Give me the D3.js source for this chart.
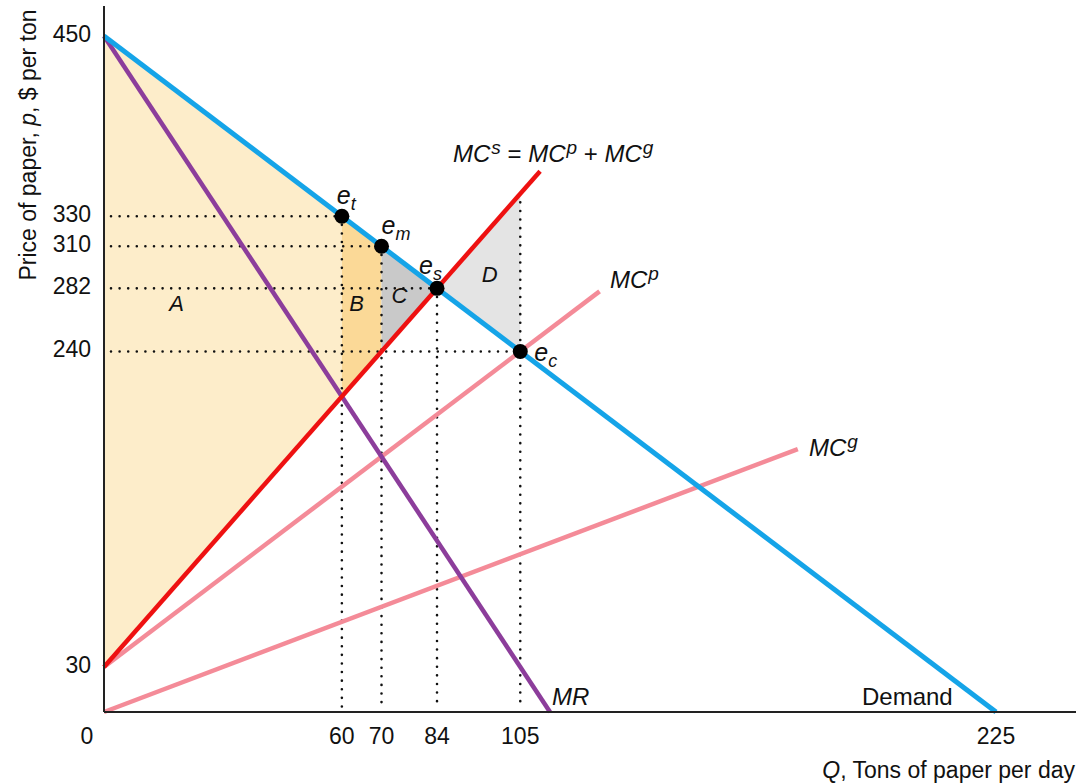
<!DOCTYPE html>
<html>
<head>
<meta charset="utf-8">
<script src="https://cdn.jsdelivr.net/npm/d3@7"></script>
<style>
	body { margin: 0; background: #fff; }
	svg text { font-family: 'Liberation Sans', Arial, sans-serif; fill: #111; }
</style>
</head>
<body>
<script>
// Curves: quantity (Q) and price (p) end points
const demandQ = [0, 225];
const demandP = [450, 0];
const mrQ = [0, 112.5];
const mrP = [450, 0];
const mcsQ = [0, 110];
const mcsP = [30, 360];
const mcpQ = [0, 125];
const mcpP = [30, 280];
const mcgQ = [0, 175];
const mcgP = [0, 175];

// Equilibrium points
const eqNames = ['t', 'm', 's', 'c'];
const eqQ = [60, 70, 84, 105];
const eqP = [330, 310, 282, 240];
// top of the vertical dotted line for each point
const dropTopP = [330, 310, 282, 345];

// Shaded areas
const areaNames = ['A', 'B', 'C', 'D'];
const areaPoints = [
	[[0, 450], [60, 330], [60, 210], [0, 30]],
	[[60, 330], [70, 310], [70, 240], [60, 210]],
	[[70, 310], [84, 282], [70, 240]],
	[[84, 282], [105, 345], [105, 240]]
];
const areaLabelQ = [18.3, 63.7, 74.5, 97.3];
const areaLabelP = [267, 267, 272, 286];

// Tick labels
const yTicks = [450, 330, 310, 282, 240, 30];
const xTicks = [60, 70, 84, 105, 225];

const width = 1088, height = 783;
const x = d3.scaleLinear().domain([0, 225]).range([104, 996]);
const y = d3.scaleLinear().domain([0, 450]).range([712, 36]);

const svg = d3.select('body').append('svg')
	.attr('width', width)
	.attr('height', height);

// Areas
const areaColors = ['#fdedca', '#fbd997', '#c9c9c9', '#e4e4e4'];
svg.selectAll('path.area')
	.data(areaPoints)
.join('path')
	.attr('class', 'area')
	.attr('fill', (d, i) => areaColors[i])
	.attr('d', d => d3.line().x(p => x(p[0])).y(p => y(p[1]))(d) + 'Z');

svg.selectAll('text.areaLabel')
	.data(areaNames)
.join('text')
	.attr('class', 'areaLabel')
	.attr('x', (d, i) => x(areaLabelQ[i]))
	.attr('y', (d, i) => y(areaLabelP[i]))
	.attr('text-anchor', 'middle')
	.attr('font-size', 22)
	.attr('font-style', 'italic')
	.text(d => d);

// Dotted guides
const dotted = g => g.attr('stroke', '#111')
	.attr('stroke-width', 2.6)
	.attr('stroke-linecap', 'round')
	.attr('stroke-dasharray', '0 8.6');

svg.selectAll('line.hguide')
	.data(eqQ)
.join('line')
	.attr('class', 'hguide')
	.attr('x1', x(0) + 7)
	.attr('x2', d => x(d))
	.attr('y1', (d, i) => y(eqP[i]))
	.attr('y2', (d, i) => y(eqP[i]))
	.call(dotted);

svg.selectAll('line.vguide')
	.data(eqQ)
.join('line')
	.attr('class', 'vguide')
	.attr('x1', d => x(d))
	.attr('x2', d => x(d))
	.attr('y1', (d, i) => y(dropTopP[i]))
	.attr('y2', y(0) - 4)
	.call(dotted);

// Curves
const curves = [
	{ 'q': mcgQ, 'p': mcgP, 'color': '#f48b98', 'w': 4.5 },
	{ 'q': mcpQ, 'p': mcpP, 'color': '#f48b98', 'w': 4.5 },
	{ 'q': mrQ, 'p': mrP, 'color': '#8c3d9b', 'w': 4.5 },
	{ 'q': mcsQ, 'p': mcsP, 'color': '#ee1111', 'w': 4.5 },
	{ 'q': demandQ, 'p': demandP, 'color': '#15a4e8', 'w': 5 }
];
svg.selectAll('line.curve')
	.data(curves)
.join('line')
	.attr('class', 'curve')
	.attr('x1', d => x(d.q[0]))
	.attr('y1', d => y(d.p[0]))
	.attr('x2', d => x(d.q[1]))
	.attr('y2', d => y(d.p[1]))
	.attr('stroke', d => d.color)
	.attr('stroke-width', d => d.w);

// Axes
svg.append('line')
	.attr('x1', x(0)).attr('x2', x(0))
	.attr('y1', 6).attr('y2', y(0))
	.attr('stroke', '#222').attr('stroke-width', 2);
svg.append('line')
	.attr('x1', x(0)).attr('x2', 1076)
	.attr('y1', y(0)).attr('y2', y(0))
	.attr('stroke', '#222').attr('stroke-width', 2);

svg.selectAll('text.ytick')
	.data(yTicks)
.join('text')
	.attr('class', 'ytick')
	.attr('x', x(0) - 13)
	.attr('y', d => y(d) + 6)
	.attr('text-anchor', 'end')
	.attr('font-size', 23)
	.text(d => d);

svg.selectAll('text.xtick')
	.data(xTicks)
.join('text')
	.attr('class', 'xtick')
	.attr('x', d => x(d))
	.attr('y', 744)
	.attr('text-anchor', 'middle')
	.attr('font-size', 23)
	.text(d => d);

svg.append('text')
	.attr('x', x(0) - 17)
	.attr('y', 744)
	.attr('text-anchor', 'middle')
	.attr('font-size', 23)
	.text('0');

// Axis titles
const yTitle = svg.append('text')
	.attr('transform', 'translate(36,145) rotate(-90)')
	.attr('text-anchor', 'middle')
	.attr('font-size', 23);
yTitle.append('tspan').text('Price of paper, ');
yTitle.append('tspan').attr('font-style', 'italic').text('p');
yTitle.append('tspan').text(', $ per ton');

const xTitle = svg.append('text')
	.attr('x', 1075)
	.attr('y', 778)
	.attr('text-anchor', 'end')
	.attr('font-size', 23);
xTitle.append('tspan').attr('font-style', 'italic').text('Q');
xTitle.append('tspan').text(', Tons of paper per day');

// Equilibrium dots and labels
svg.selectAll('circle.eq')
	.data(eqQ)
.join('circle')
	.attr('class', 'eq')
	.attr('cx', d => x(d))
	.attr('cy', (d, i) => y(eqP[i]))
	.attr('r', 7.5)
	.attr('fill', '#000');

const eqLabelDx = [-5, 0, -18, 14];
const eqLabelDy = [-12, -12, -14, 10];
const eqLabels = svg.selectAll('text.eqLabel')
	.data(eqNames)
.join('text')
	.attr('class', 'eqLabel')
	.attr('x', (d, i) => x(eqQ[i]) + eqLabelDx[i])
	.attr('y', (d, i) => y(eqP[i]) + eqLabelDy[i])
	.attr('font-size', 25)
	.attr('font-style', 'italic');
eqLabels.append('tspan').text('e');
eqLabels.append('tspan')
	.attr('dy', 6)
	.attr('font-size', 18)
	.text(d => d);

// Curve labels
const supLabel = function(xPos, yPos, parts) {
	const t = svg.append('text')
		.attr('x', xPos)
		.attr('y', yPos)
		.attr('font-size', 24);
	for (const part of parts) {
		const s = t.append('tspan').text(part.text);
		if (part.italic) s.attr('font-style', 'italic');
		if (part.sup) s.attr('dx', 1).attr('dy', -8).attr('font-size', 19);
		if (part.down) s.attr('dy', 8);
	}
	return t;
};

supLabel(453, 162, [
	{ 'text': 'MC', 'italic': true },
	{ 'text': 's', 'italic': true, 'sup': true },
	{ 'text': ' = ', 'down': true },
	{ 'text': 'MC', 'italic': true },
	{ 'text': 'p', 'italic': true, 'sup': true },
	{ 'text': ' + ', 'down': true },
	{ 'text': 'MC', 'italic': true },
	{ 'text': 'g', 'italic': true, 'sup': true }
]);
supLabel(610, 288, [
	{ 'text': 'MC', 'italic': true },
	{ 'text': 'p', 'italic': true, 'sup': true }
]);
supLabel(809, 456, [
	{ 'text': 'MC', 'italic': true },
	{ 'text': 'g', 'italic': true, 'sup': true }
]);
supLabel(552, 705, [{ 'text': 'MR', 'italic': true }]);
supLabel(862, 705, [{ 'text': 'Demand' }]);
</script>
</body>
</html>
